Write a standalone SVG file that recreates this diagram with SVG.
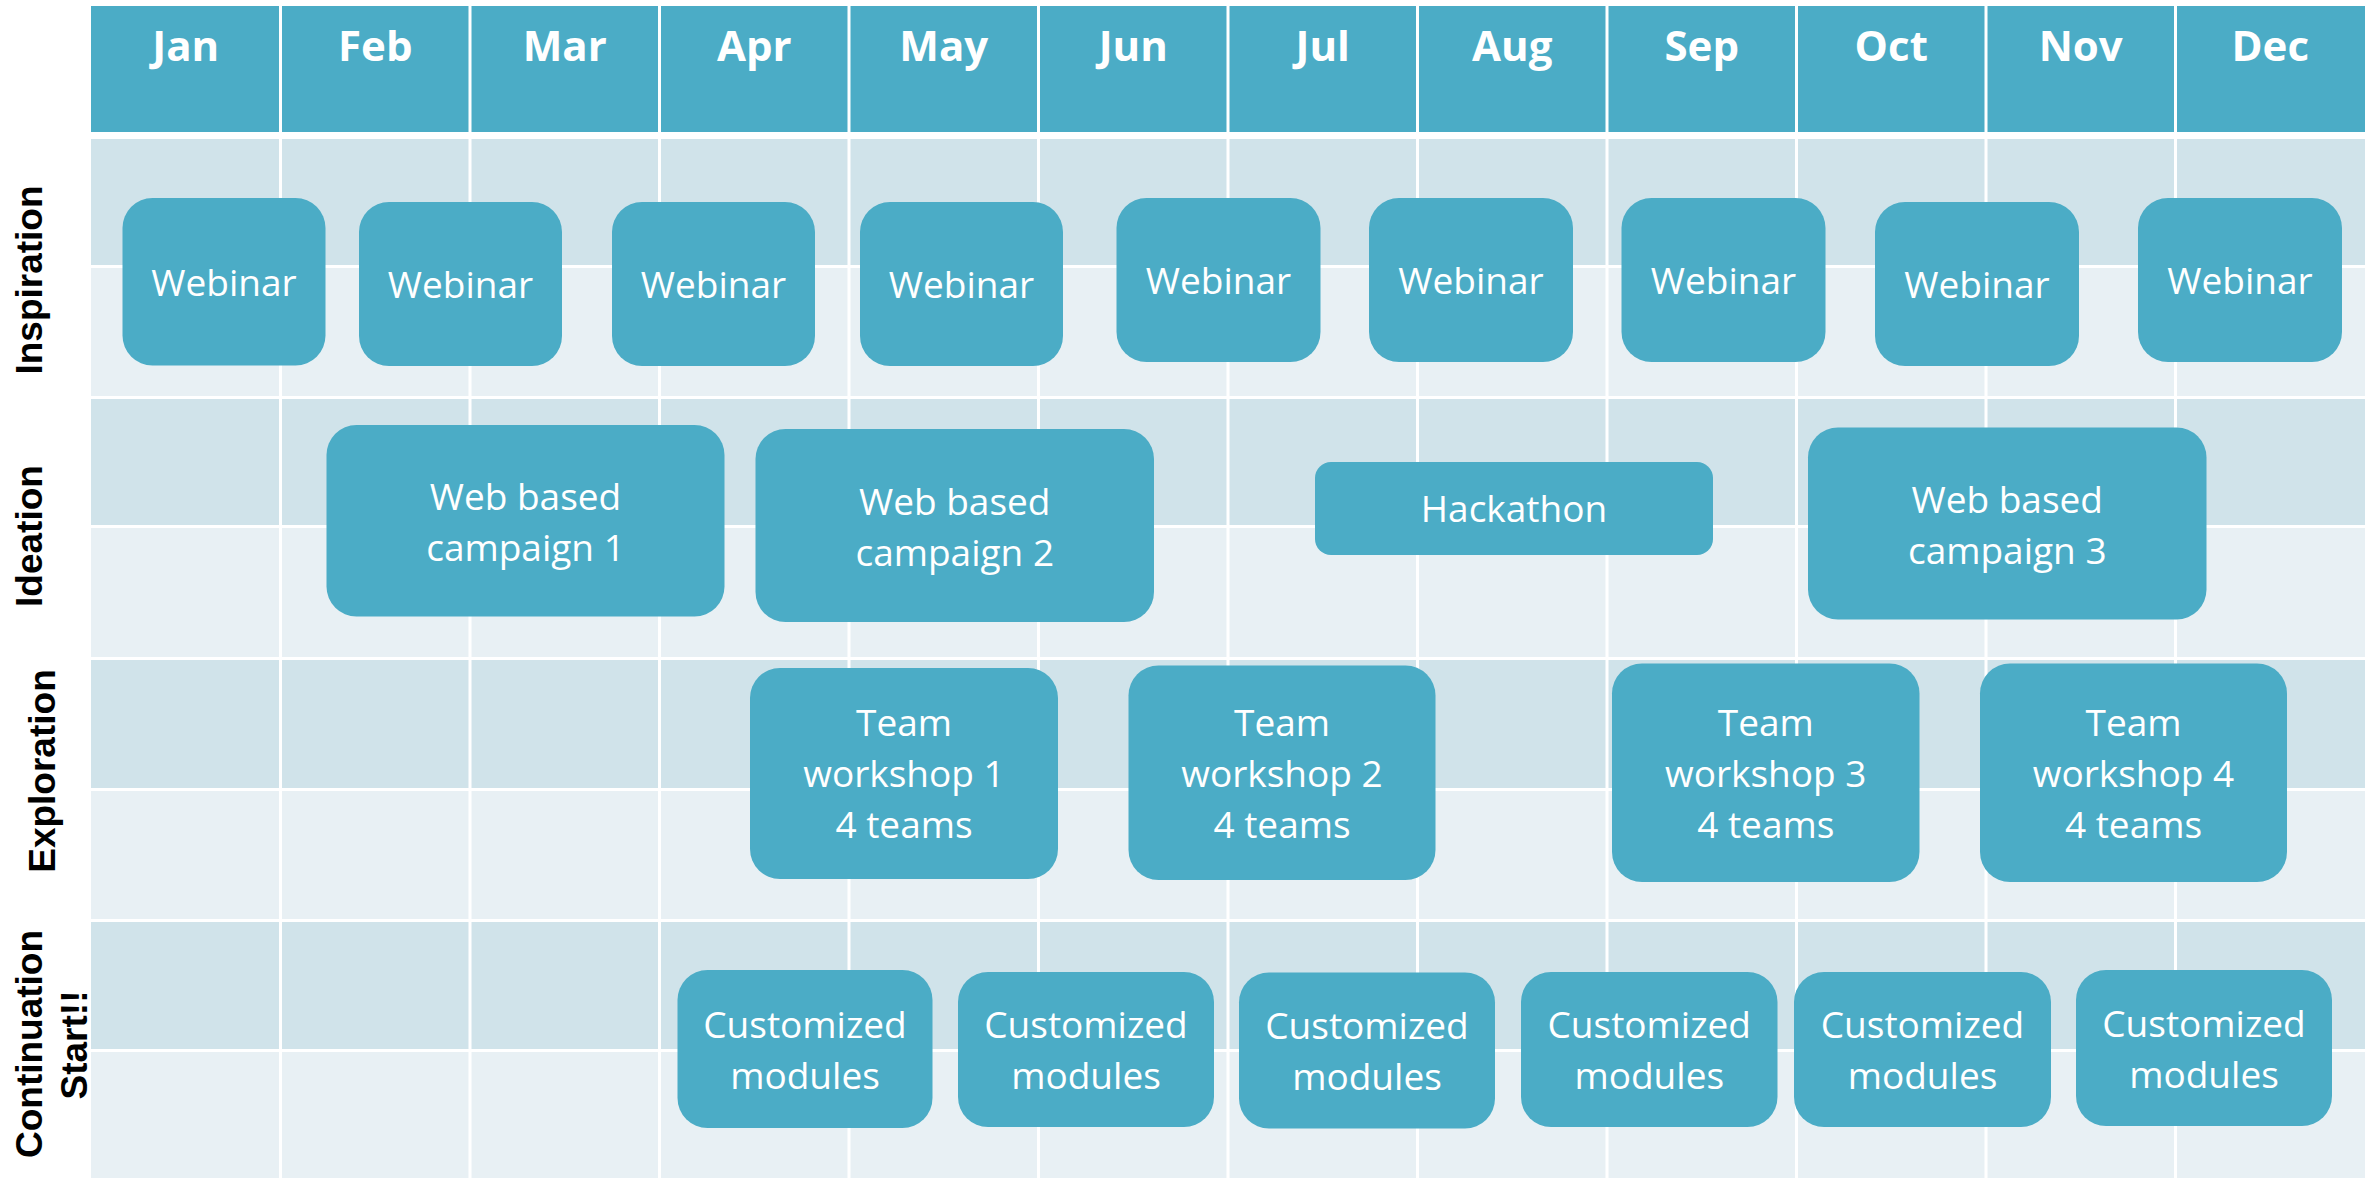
<svg xmlns="http://www.w3.org/2000/svg" width="2374" height="1178" viewBox="0 0 2374 1178">
<style>
.hdr{fill:#4BACC6}
.dk{fill:#D0E3EA}
.lt{fill:#E8F0F4}
.vl{stroke:#FFFFFF;stroke-width:3}
.box{fill:#4BACC6}
.m{font-family:"Open Sans","Liberation Sans",sans-serif;font-weight:bold;font-size:42px;fill:#FFFFFF;text-anchor:middle}
.t{font-family:"Open Sans","Liberation Sans",sans-serif;font-size:37px;fill:#FFFFFF;text-anchor:middle}
.lab{font-family:"Liberation Sans",Arial,sans-serif;font-weight:bold;font-size:37px;fill:#000000;text-anchor:middle}
</style>
<rect x="0" y="0" width="2374" height="1178" fill="#FFFFFF"/>
<g id="grid">
  <rect class="hdr" x="91" y="6" width="2274" height="126"/>
  <rect class="dk" x="91" y="139" width="2274" height="126"/>
  <rect class="lt" x="91" y="268" width="2274" height="128"/>
  <rect class="dk" x="91" y="399" width="2274" height="126"/>
  <rect class="lt" x="91" y="528" width="2274" height="129"/>
  <rect class="dk" x="91" y="660" width="2274" height="128"/>
  <rect class="lt" x="91" y="791" width="2274" height="128"/>
  <rect class="dk" x="91" y="922" width="2274" height="127"/>
  <rect class="lt" x="91" y="1052" width="2274" height="126"/>
  <g class="vl">
    <line x1="280.5" y1="6" x2="280.5" y2="1178"/>
    <line x1="470" y1="6" x2="470" y2="1178"/>
    <line x1="659.5" y1="6" x2="659.5" y2="1178"/>
    <line x1="849" y1="6" x2="849" y2="1178"/>
    <line x1="1038.5" y1="6" x2="1038.5" y2="1178"/>
    <line x1="1228" y1="6" x2="1228" y2="1178"/>
    <line x1="1417.5" y1="6" x2="1417.5" y2="1178"/>
    <line x1="1607" y1="6" x2="1607" y2="1178"/>
    <line x1="1796.5" y1="6" x2="1796.5" y2="1178"/>
    <line x1="1986" y1="6" x2="1986" y2="1178"/>
    <line x1="2175.5" y1="6" x2="2175.5" y2="1178"/>
  </g>
</g>
<g id="months">
  <text class="m" x="185.75" y="61">Jan</text>
  <text class="m" x="375.25" y="61">Feb</text>
  <text class="m" x="564.75" y="61">Mar</text>
  <text class="m" x="754.25" y="61">Apr</text>
  <text class="m" x="943.75" y="61">May</text>
  <text class="m" x="1133.25" y="61">Jun</text>
  <text class="m" x="1322.75" y="61">Jul</text>
  <text class="m" x="1512.25" y="61">Aug</text>
  <text class="m" x="1701.75" y="61">Sep</text>
  <text class="m" x="1891.25" y="61">Oct</text>
  <text class="m" x="2080.75" y="61">Nov</text>
  <text class="m" x="2270.25" y="61">Dec</text>
</g>
<g id="row-labels">
  <text class="lab" transform="translate(42,280) rotate(-90)">Inspiration</text>
  <text class="lab" transform="translate(42,536) rotate(-90)">Ideation</text>
  <text class="lab" transform="translate(55,771) rotate(-90)">Exploration</text>
  <text class="lab" transform="translate(42,1044) rotate(-90)">Continuation</text>
  <text class="lab" transform="translate(87,1045) rotate(-90)">Start!!</text>
</g>
<g id="connectors"></g>
<g id="inspiration">
  <g id="webinar-1"><rect class="box" x="122.5" y="198" width="203" height="167.5" rx="30" ry="30"/><text class="t" x="224" y="295.5">Webinar</text></g>
  <g id="webinar-2"><rect class="box" x="359" y="202" width="203" height="164" rx="30" ry="30"/><text class="t" x="460.5" y="297.5">Webinar</text></g>
  <g id="webinar-3"><rect class="box" x="612" y="202" width="203" height="164" rx="30" ry="30"/><text class="t" x="713.5" y="297.5">Webinar</text></g>
  <g id="webinar-4"><rect class="box" x="860" y="202" width="203" height="164" rx="30" ry="30"/><text class="t" x="961.5" y="297.5">Webinar</text></g>
  <g id="webinar-5"><rect class="box" x="1116.5" y="198" width="204" height="164" rx="30" ry="30"/><text class="t" x="1218.5" y="293.5">Webinar</text></g>
  <g id="webinar-6"><rect class="box" x="1369" y="198" width="204" height="164" rx="30" ry="30"/><text class="t" x="1471" y="293.5">Webinar</text></g>
  <g id="webinar-7"><rect class="box" x="1621.5" y="198" width="204" height="164" rx="30" ry="30"/><text class="t" x="1723.5" y="293.5">Webinar</text></g>
  <g id="webinar-8"><rect class="box" x="1875" y="202" width="204" height="164" rx="30" ry="30"/><text class="t" x="1977" y="297.5">Webinar</text></g>
  <g id="webinar-9"><rect class="box" x="2138" y="198" width="204" height="164" rx="30" ry="30"/><text class="t" x="2240" y="293.5">Webinar</text></g>
</g>
<g id="ideation">
  <g id="campaign-1"><rect class="box" x="326.5" y="425" width="398" height="191.5" rx="30" ry="30"/><text class="t" x="525.5" y="510">Web based</text><text class="t" x="525.5" y="561">campaign 1</text></g>
  <g id="campaign-2"><rect class="box" x="755.5" y="429" width="398.5" height="193" rx="30" ry="30"/><text class="t" x="954.75" y="514.5">Web based</text><text class="t" x="954.75" y="565.5">campaign 2</text></g>
  <g id="hackathon"><rect class="box" x="1315" y="462" width="398" height="93" rx="16" ry="16"/><text class="t" x="1514" y="521.5">Hackathon</text></g>
  <g id="campaign-3"><rect class="box" x="1808" y="427.5" width="398.5" height="192" rx="30" ry="30"/><text class="t" x="2007.25" y="512.5">Web based</text><text class="t" x="2007.25" y="563.5">campaign 3</text></g>
</g>
<g id="exploration">
  <g id="workshop-1"><rect class="box" x="750" y="668" width="308" height="211" rx="30" ry="30"/><text class="t" x="904" y="736">Team</text><text class="t" x="904" y="787">workshop 1</text><text class="t" x="904" y="838">4 teams</text></g>
  <g id="workshop-2"><rect class="box" x="1128.5" y="665.5" width="307" height="214.5" rx="30" ry="30"/><text class="t" x="1282" y="735.5">Team</text><text class="t" x="1282" y="786.5">workshop 2</text><text class="t" x="1282" y="837.5">4 teams</text></g>
  <g id="workshop-3"><rect class="box" x="1612" y="663.5" width="307.5" height="218.5" rx="30" ry="30"/><text class="t" x="1765.75" y="735.5">Team</text><text class="t" x="1765.75" y="786.5">workshop 3</text><text class="t" x="1765.75" y="837.5">4 teams</text></g>
  <g id="workshop-4"><rect class="box" x="1980" y="663.5" width="307" height="218.5" rx="30" ry="30"/><text class="t" x="2133.5" y="735.5">Team</text><text class="t" x="2133.5" y="786.5">workshop 4</text><text class="t" x="2133.5" y="837.5">4 teams</text></g>
</g>
<g id="continuation">
  <g id="module-1"><rect class="box" x="677.5" y="970" width="255" height="158" rx="30" ry="30"/><text class="t" x="805" y="1038">Customized</text><text class="t" x="805" y="1089">modules</text></g>
  <g id="module-2"><rect class="box" x="958" y="972" width="256" height="155" rx="30" ry="30"/><text class="t" x="1086" y="1038">Customized</text><text class="t" x="1086" y="1089">modules</text></g>
  <g id="module-3"><rect class="box" x="1239" y="972.5" width="256" height="156" rx="30" ry="30"/><text class="t" x="1367" y="1039">Customized</text><text class="t" x="1367" y="1090">modules</text></g>
  <g id="module-4"><rect class="box" x="1521" y="972" width="256.5" height="155" rx="30" ry="30"/><text class="t" x="1649.25" y="1038">Customized</text><text class="t" x="1649.25" y="1089">modules</text></g>
  <g id="module-5"><rect class="box" x="1794" y="972" width="257" height="155" rx="30" ry="30"/><text class="t" x="1922.5" y="1038">Customized</text><text class="t" x="1922.5" y="1089">modules</text></g>
  <g id="module-6"><rect class="box" x="2076" y="970" width="256" height="156" rx="30" ry="30"/><text class="t" x="2204" y="1037">Customized</text><text class="t" x="2204" y="1088">modules</text></g>
</g>
</svg>
